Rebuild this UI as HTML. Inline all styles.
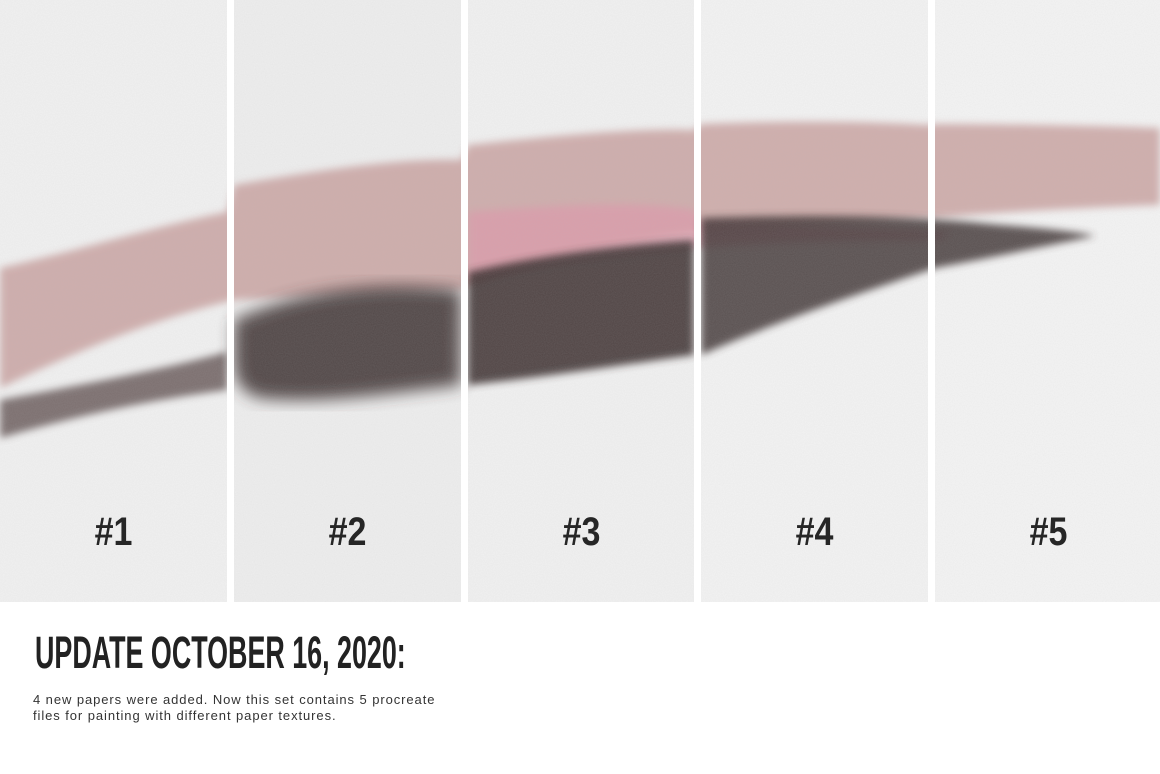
<!DOCTYPE html>
<html><head><meta charset="utf-8">
<style>
html,body{margin:0;padding:0;background:#fff;width:1160px;height:774px;overflow:hidden}
.wrap{position:relative;width:1160px;height:774px}
svg{position:absolute;left:0;top:0}
.lbl{position:absolute;top:510px;width:227px;text-align:center;font-family:"Liberation Sans Narrow","Liberation Sans",sans-serif;font-weight:bold;font-size:40px;color:#262626;transform:scaleX(0.85)}
.title{position:absolute;left:35px;top:627px;font-family:"Liberation Sans Narrow","Liberation Sans",sans-serif;font-weight:bold;font-size:45px;color:#222;transform-origin:left top;transform:scaleX(0.597);white-space:nowrap}
.body{position:absolute;left:33px;top:692px;font-family:"Liberation Sans",sans-serif;font-size:13px;letter-spacing:0.92px;line-height:16px;color:#333;white-space:nowrap}
</style></head><body>
<div class="wrap">
<svg width="1160" height="602" viewBox="0 0 1160 602">
<defs>
<filter id="blur"><feGaussianBlur stdDeviation="4"/></filter>
<filter id="blur2"><feGaussianBlur stdDeviation="8"/></filter>
<filter id="grain" x="0" y="0" width="100%" height="100%">
<feTurbulence type="fractalNoise" baseFrequency="0.9" numOctaves="2" seed="3"/>
<feColorMatrix type="matrix" values="0 0 0 0 0.5 0 0 0 0 0.5 0 0 0 0 0.5 0 0 0 0.16 0"/>
</filter>
</defs>
<rect x="0" y="0" width="1160" height="602" fill="#f1f1f1"/>
<rect x="234" y="0" width="227" height="602" fill="#eeeeee"/>
<rect x="701" y="0" width="227" height="602" fill="#f3f3f3"/>
<rect x="935" y="0" width="225" height="602" fill="#f4f4f4"/>
<g>
<path d="M0,268 C80,250 160,225 227,212 L234,185 C320,170 400,158 461,160 L468,145 C560,135 640,128 694,130 L701,124 C800,120 880,122 928,125 L935,124 C1020,124 1100,126 1160,128 L1160,205 C1080,208 1000,212 935,218 L700,232 C600,245 500,270 461,290 L234,300 C150,320 80,350 0,388 Z" fill="#c9a2a0" filter="url(#blur)" opacity="0.85"/>
<path d="M468,212 C560,205 640,200 694,210 L701,222 C800,226 880,228 950,232 L940,240 C800,240 700,245 600,258 C540,265 500,275 468,282 Z" fill="#dd9aaa" filter="url(#blur)" opacity="0.75"/>
</g>
<g>
<path d="M0,400 C80,385 160,370 227,352 L227,390 C150,400 80,415 0,438 Z" fill="#5e5050" filter="url(#blur)" opacity="0.8"/>
<path d="M234,320 C300,290 380,280 461,290 L461,385 C400,392 320,405 260,398 C240,392 234,380 234,360 Z" fill="#3e3232" filter="url(#blur2)" opacity="0.88"/>
<path d="M468,272 C540,255 620,245 694,240 L694,355 C620,365 540,378 468,385 Z" fill="#3a2f2f" filter="url(#blur)" opacity="0.88"/>
<path d="M701,218 C800,215 900,214 1000,225 C1040,228 1080,232 1095,236 C1050,245 980,260 935,268 C870,290 780,320 701,355 Z" fill="#3f3434" filter="url(#blur)" opacity="0.85"/>
</g>
<rect x="0" y="0" width="1160" height="602" filter="url(#grain)"/>
<g fill="#ffffff">
<rect x="227" y="0" width="7" height="602"/>
<rect x="461" y="0" width="7" height="602"/>
<rect x="694" y="0" width="7" height="602"/>
<rect x="928" y="0" width="7" height="602"/>
</g>
</svg>
<div class="lbl" style="left:0px">#1</div>
<div class="lbl" style="left:234px">#2</div>
<div class="lbl" style="left:468px">#3</div>
<div class="lbl" style="left:701px">#4</div>
<div class="lbl" style="left:935px">#5</div>
<div class="title">UPDATE OCTOBER 16, 2020:</div>
<div class="body">4 new papers were added. Now this set contains 5 procreate<br>files for painting with different paper textures.</div>
</div>
</body></html>
